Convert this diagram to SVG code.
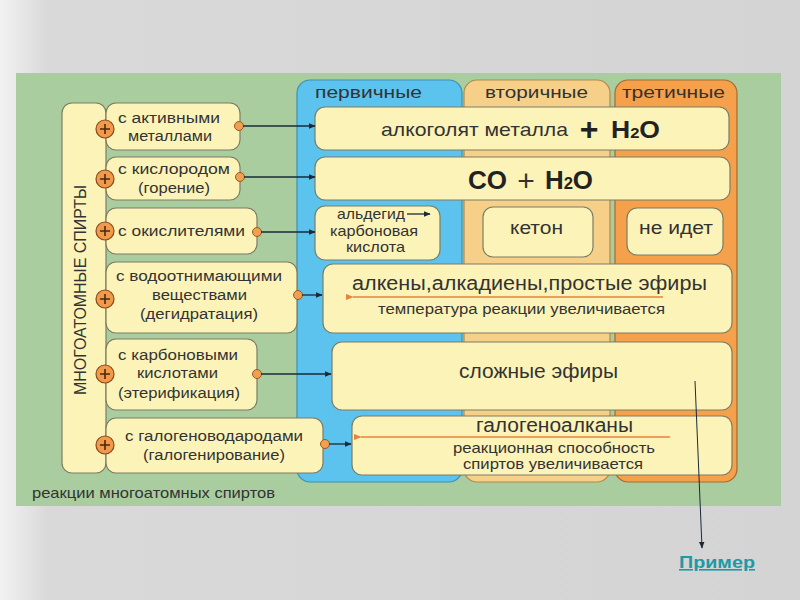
<svg xmlns="http://www.w3.org/2000/svg" width="800" height="600" viewBox="0 0 800 600">
<defs>
<linearGradient id="bg" x1="0" y1="0" x2="1" y2="0">
<stop offset="0" stop-color="#f2f2f2"/>
<stop offset="0.06" stop-color="#d9d9d9"/>
<stop offset="1" stop-color="#d4d4d4"/>
</linearGradient>
<marker id="ah" viewBox="0 0 10 10" refX="9" refY="5" markerWidth="7" markerHeight="7" markerUnits="userSpaceOnUse" orient="auto">
<path d="M0,1 L10,5 L0,9 z" fill="#1a2a3a"/>
</marker>
<marker id="oh" viewBox="0 0 10 10" refX="1" refY="5" markerWidth="8" markerHeight="8" markerUnits="userSpaceOnUse" orient="auto">
<path d="M10,1 L0,5 L10,9 z" fill="#e8833a"/>
</marker>
</defs>
<style>
.t{font-family:"Liberation Sans",Arial,sans-serif;fill:#333;}
.box{fill:#fcf3b8;stroke:#7d7d64;stroke-width:1.2;}
.plus{fill:#f29a4c;stroke:#8a4a1c;stroke-width:1.2;}
.pl{stroke:#4a2a10;stroke-width:1.6;}
.dot{fill:#f0a050;stroke:#9a5a24;stroke-width:1;}
.con{stroke:#1a2a3a;stroke-width:1.3;fill:none;}
.oline{stroke:#e8833a;stroke-width:1.4;}
.b{font-weight:bold;fill:#222;}
.l{font-size:15.5px;}
</style>
<rect x="0" y="0" width="800" height="600" fill="url(#bg)"/>
<rect x="16" y="73" width="765" height="433" fill="#a9cd9f"/>

<g id="col-primary">
<rect x="297" y="80" width="165" height="402" rx="13" fill="#5cc2ee" stroke="#3f8fb5" stroke-width="1.2"/>
<text class="t" x="315" y="98" font-size="16.5" textLength="107" lengthAdjust="spacingAndGlyphs">первичные</text>
</g>
<g id="col-secondary">
<rect x="464" y="80" width="146" height="402" rx="13" fill="#f6d088" stroke="#b08a50" stroke-width="1.2"/>
<text class="t" x="485" y="98" font-size="16.5" textLength="103" lengthAdjust="spacingAndGlyphs">вторичные</text>
</g>
<g id="col-tertiary">
<rect x="615" y="80" width="122" height="402" rx="13" fill="#f5a04a" stroke="#a86a30" stroke-width="1.2"/>
<text class="t" x="622" y="98" font-size="16.5" textLength="103" lengthAdjust="spacingAndGlyphs">третичные</text>
</g>

<g id="alcohols">
<rect class="box" x="62" y="103" width="44" height="370" rx="10"/>
<text class="t" transform="translate(86,395) rotate(-90)" font-size="16" textLength="210" lengthAdjust="spacingAndGlyphs">МНОГОАТОМНЫЕ СПИРТЫ</text>
</g>

<g id="r-metals">
<rect class="box" x="106" y="103" width="134" height="47" rx="10"/>
<text class="t l" x="118" y="123" textLength="102" lengthAdjust="spacingAndGlyphs">с  активными</text>
<text class="t l" x="128" y="141" textLength="84" lengthAdjust="spacingAndGlyphs">металлами</text>
<circle class="plus" cx="105" cy="129" r="9"/><path class="pl" d="M100,129 H110 M105,124 V134"/>
<circle class="dot" cx="239" cy="126" r="4.5"/>
</g>
<g id="r-oxygen">
<rect class="box" x="106" y="157" width="134" height="43" rx="10"/>
<text class="t l" x="118" y="174" textLength="112" lengthAdjust="spacingAndGlyphs">с  кислородом</text>
<text class="t l" x="138" y="193" textLength="72" lengthAdjust="spacingAndGlyphs">(горение)</text>
<circle class="plus" cx="105" cy="179" r="9"/><path class="pl" d="M100,179 H110 M105,174 V184"/>
<circle class="dot" cx="240" cy="177" r="4.5"/>
</g>
<g id="r-oxidizers">
<rect class="box" x="106" y="208" width="151" height="46" rx="10"/>
<text class="t l" x="118" y="236" textLength="127" lengthAdjust="spacingAndGlyphs">с  окислителями</text>
<circle class="plus" cx="105" cy="231" r="9"/><path class="pl" d="M100,231 H110 M105,226 V236"/>
<circle class="dot" cx="257" cy="232" r="4.5"/>
</g>
<g id="r-dehydration">
<rect class="box" x="106" y="262" width="191" height="71" rx="10"/>
<text class="t l" x="116" y="281" textLength="166" lengthAdjust="spacingAndGlyphs">с  водоотнимающими</text>
<text class="t l" x="152" y="300" textLength="95" lengthAdjust="spacingAndGlyphs">веществами</text>
<text class="t l" x="140" y="319" textLength="118" lengthAdjust="spacingAndGlyphs">(дегидратация)</text>
<circle class="plus" cx="105" cy="299" r="9"/><path class="pl" d="M100,299 H110 M105,294 V304"/>
<circle class="dot" cx="298" cy="295" r="4.5"/>
</g>
<g id="r-acids">
<rect class="box" x="106" y="339" width="151" height="71" rx="10"/>
<text class="t l" x="118" y="360" textLength="120" lengthAdjust="spacingAndGlyphs">с  карбоновыми</text>
<text class="t l" x="137" y="378" textLength="81" lengthAdjust="spacingAndGlyphs">кислотами</text>
<text class="t l" x="118" y="398" textLength="122" lengthAdjust="spacingAndGlyphs">(этерификация)</text>
<circle class="plus" cx="105" cy="374" r="9"/><path class="pl" d="M100,374 H110 M105,369 V379"/>
<circle class="dot" cx="257" cy="374" r="4.5"/>
</g>
<g id="r-halogen">
<rect class="box" x="106" y="418" width="217" height="55" rx="10"/>
<text class="t l" x="125" y="441" textLength="178" lengthAdjust="spacingAndGlyphs">с  галогеноводародами</text>
<text class="t l" x="143" y="460" textLength="142" lengthAdjust="spacingAndGlyphs">(галогенирование)</text>
<circle class="plus" cx="105" cy="445" r="9"/><path class="pl" d="M100,445 H110 M105,440 V450"/>
<circle class="dot" cx="325" cy="444" r="4.5"/>
</g>

<g id="p-alkoxide">
<rect class="box" x="315" y="107" width="414" height="43" rx="10"/>
<text class="t" x="381" y="136" font-size="19" textLength="187" lengthAdjust="spacingAndGlyphs">алкоголят металла</text>
<text class="t b" x="589" y="140" font-size="32" text-anchor="middle">+</text>
<text class="t b" x="611" y="138" font-size="24" textLength="49" lengthAdjust="spacingAndGlyphs">H<tspan font-size="15">2</tspan>O</text>
</g>
<g id="p-combustion">
<rect class="box" x="315" y="157" width="415" height="43" rx="10"/>
<text class="t b" x="468" y="189" font-size="25" textLength="39" lengthAdjust="spacingAndGlyphs">CO</text>
<text class="t" x="526" y="191" font-size="30" text-anchor="middle">+</text>
<text class="t b" x="545" y="189" font-size="25" textLength="48" lengthAdjust="spacingAndGlyphs">H<tspan font-size="16">2</tspan>O</text>
</g>
<g id="p-aldehyde">
<rect class="box" x="315" y="206" width="125" height="54" rx="10"/>
<text class="t" x="337" y="219" font-size="14.5" textLength="68" lengthAdjust="spacingAndGlyphs">альдегид</text>
<text class="t" x="330" y="236" font-size="14.5" textLength="88" lengthAdjust="spacingAndGlyphs">карбоновая</text>
<text class="t" x="346" y="252" font-size="14.5" textLength="59" lengthAdjust="spacingAndGlyphs">кислота</text>
<line class="con" x1="407" y1="214" x2="430" y2="214" marker-end="url(#ah)"/>
</g>
<g id="p-ketone">
<rect class="box" x="483" y="207" width="110" height="50" rx="10"/>
<text class="t" x="510" y="234" font-size="17.5" textLength="53" lengthAdjust="spacingAndGlyphs">кетон</text>
</g>
<g id="p-none">
<rect class="box" x="627" y="208" width="96" height="47" rx="10"/>
<text class="t" x="639" y="234" font-size="17.5" textLength="74" lengthAdjust="spacingAndGlyphs">не идет</text>
</g>
<g id="p-alkenes">
<rect class="box" x="323" y="264" width="409" height="69" rx="10"/>
<text class="t" x="352" y="290" font-size="20" textLength="355" lengthAdjust="spacingAndGlyphs">алкены,алкадиены,простые эфиры</text>
<line class="oline" x1="663" y1="297" x2="353" y2="297" marker-end="url(#oh)"/>
<text class="t" x="378" y="314" font-size="14" textLength="287" lengthAdjust="spacingAndGlyphs">температура реакции  увеличивается</text>
</g>
<g id="p-esters">
<rect class="box" x="332" y="342" width="400" height="68" rx="10"/>
<text class="t" x="459" y="378" font-size="20" textLength="159" lengthAdjust="spacingAndGlyphs">сложные эфиры</text>
</g>
<g id="p-haloalkanes">
<rect class="box" x="352" y="416" width="380" height="59" rx="10"/>
<text class="t" x="476" y="432" font-size="20" textLength="157" lengthAdjust="spacingAndGlyphs">галогеноалканы</text>
<line class="oline" x1="670" y1="437" x2="361" y2="437" marker-end="url(#oh)"/>
<text class="t" x="453" y="453" font-size="14.5" textLength="202" lengthAdjust="spacingAndGlyphs">реакционная способность</text>
<text class="t" x="463" y="469" font-size="14.5" textLength="180" lengthAdjust="spacingAndGlyphs">спиртов увеличивается</text>
</g>

<g id="connectors">
<line class="con" x1="243" y1="126" x2="315" y2="126" marker-end="url(#ah)"/>
<line class="con" x1="244" y1="177" x2="315" y2="177" marker-end="url(#ah)"/>
<line class="con" x1="261" y1="232" x2="315" y2="232" marker-end="url(#ah)"/>
<line class="con" x1="302" y1="295" x2="322" y2="295" marker-end="url(#ah)"/>
<line class="con" x1="261" y1="374" x2="331" y2="374" marker-end="url(#ah)"/>
<line class="con" x1="329" y1="444" x2="351" y2="444" marker-end="url(#ah)"/>
<line x1="695" y1="381" x2="702" y2="548" stroke="#1a2a3a" stroke-width="1" marker-end="url(#ah)"/>
</g>

<text class="t" x="32" y="498" font-size="14.5" textLength="243" lengthAdjust="spacingAndGlyphs">реакции многоатомных спиртов</text>
<g id="link">
<text x="679" y="568" font-family="Liberation Sans,Arial,sans-serif" font-size="16" font-weight="bold" fill="#1d9aa6" text-decoration="underline" textLength="76" lengthAdjust="spacingAndGlyphs">Пример</text>
</g>
</svg>
